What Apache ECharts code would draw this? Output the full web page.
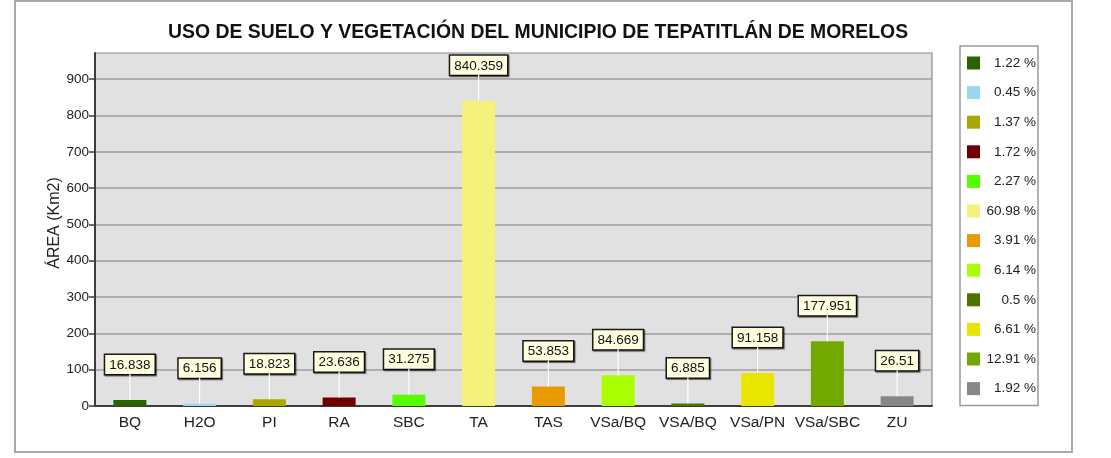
<!DOCTYPE html>
<html>
<head>
<meta charset="utf-8">
<script src="https://cdn.jsdelivr.net/npm/echarts@6/dist/echarts.min.js"></script>
<style>
html,body{margin:0;padding:0;background:#fff;}
#chart{width:1111px;height:458px;}
</style>
</head>
<body>
<div id="chart"></div>
<script>
const categories = ['BQ','H2O','PI','RA','SBC','TA','TAS','VSa/BQ','VSA/BQ','VSa/PN','VSa/SBC','ZU'];
const values = [16.838, 6.156, 18.823, 23.636, 31.275, 840.359, 53.853, 84.669, 6.885, 91.158, 177.951, 26.51];
const percents = ['1.22 %','0.45 %','1.37 %','1.72 %','2.27 %','60.98 %','3.91 %','6.14 %','0.5 %','6.61 %','12.91 %','1.92 %'];
const colors = ['#2a6300','#99d9f0','#aaa800','#6e0000','#55ff00','#f4f27a','#e89a00','#aaff00','#4d7300','#e8e600','#72a800','#878787'];
const yTicks = [0,100,200,300,400,500,600,700,800,900];

const chart = echarts.init(document.getElementById('chart'), null, {renderer:'canvas'});
const FONT = 'Liberation Sans, Arial, sans-serif';

const barSeries = categories.map((c, i) => ({
  name: percents[i],
  type: 'bar',
  stack: 'all',
  barWidth: 33,
  itemStyle: {color: colors[i]},
  data: categories.map((_, j) => j === i ? values[i] : '-'),
  label: {
    show: true,
    position: 'top',
    distance: 26,
    formatter: p => String(p.value),
    fontFamily: FONT,
    fontSize: 13.5,
    color: '#111',
    backgroundColor: '#ffffe0',
    borderColor: '#1a1a1a',
    borderWidth: 1.5,
    padding: [3, 4, 2, 4],
    shadowColor: 'rgba(0,0,0,0.55)',
    shadowOffsetX: 1,
    shadowOffsetY: 1,
    shadowBlur: 1
  },
  z: 3
}));

const leaderSeries = {
  type: 'custom',
  name: 'leader',
  silent: true,
  z: 4,
  data: values.map((v, i) => [i, v]),
  renderItem: (params, api) => {
    const p = api.coord([api.value(0), api.value(1)]);
    return {
      type: 'line',
      shape: {x1: p[0], y1: p[1], x2: p[0], y2: p[1] - 26},
      style: {stroke: '#ffffff', lineWidth: 1.2}
    };
  }
};

chart.setOption({
  animation: false,
  backgroundColor: '#ffffff',
  title: {
    text: 'USO DE SUELO Y VEGETACIÓN DEL MUNICIPIO DE TEPATITLÁN DE MORELOS',
    left: 168,
    top: 23,
    padding: 0,
    textStyle: {fontFamily: FONT, fontWeight: 'bold', fontSize: 19.4, color: '#111'}
  },
  legend: {
    data: percents,
    orient: 'vertical',
    left: 960,
    top: 46,
    width: 78,
    height: 361,
    padding: [10, 2, 10, 7],
    itemGap: 15.6,
    itemWidth: 13,
    itemHeight: 13,
    icon: 'rect',
    borderColor: '#9a9a9a',
    borderWidth: 1.5,
    selectedMode: false,
    formatter: n => '{p|' + n + '}',
    textStyle: {
      fontFamily: FONT,
      fontSize: 13,
      color: '#222',
      rich: {p: {width: 51, align: 'right', fontFamily: FONT, fontSize: 13.5, color: '#222'}}
    }
  },
  grid: {
    left: 95, right: 179, top: 53, bottom: 52,
    show: true,
    backgroundColor: '#e1e1e1',
    borderColor: '#8a8a8a',
    borderWidth: 1.2
  },
  xAxis: {
    type: 'category',
    data: categories,
    axisLine: {lineStyle: {color: '#3c3c3c', width: 2}},
    axisTick: {alignWithLabel: true, length: 6, lineStyle: {color: '#222', width: 1.5}},
    axisLabel: {interval: 0, hideOverlap: false, fontFamily: FONT, fontSize: 15.5, color: '#222', margin: 9},
    splitLine: {show: false}
  },
  yAxis: {
    type: 'value',
    min: 0,
    max: 972,
    interval: 100,
    name: 'ÁREA (Km2)',
    nameLocation: 'middle',
    nameGap: 32,
    nameMoveOverlap: false,
    nameRotate: 90,
    nameTextStyle: {fontFamily: FONT, fontSize: 16, color: '#222', padding: [0, 0, 0, 13]},
    axisLine: {show: true, lineStyle: {color: '#3c3c3c', width: 2}},
    axisTick: {show: true, customValues: yTicks, length: 6, lineStyle: {color: '#3c3c3c', width: 1.5}},
    axisLabel: {
      customValues: yTicks,
      fontFamily: FONT, fontSize: 13.5, color: '#222', margin: 6
    },
    splitLine: {lineStyle: {color: '#9c9c9c', width: 1.5}}
  },
  graphic: [{
    type: 'rect',
    shape: {x: 15, y: 1, width: 1057, height: 451},
    style: {fill: 'none', stroke: '#a8a8a8', lineWidth: 2},
    silent: true,
    z: 100
  }],
  series: barSeries.concat([leaderSeries])
});
</script>
</body>
</html>
